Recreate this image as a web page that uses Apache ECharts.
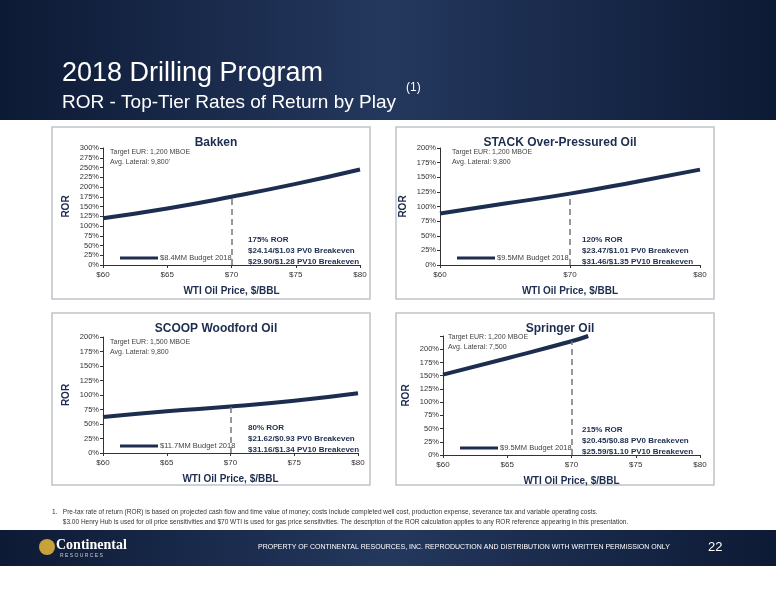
<!DOCTYPE html>
<html><head><meta charset="utf-8">
<script src="https://cdn.jsdelivr.net/npm/echarts@6/dist/echarts.min.js"></script>
<style>html,body{margin:0;padding:0;background:#fff}#c{width:776px;height:600px}</style>
</head><body><div id="c"></div>
<script>
// chart data
var bakkenX = [60, 65, 70, 75, 80];
var bakkenY = [120, 145, 175, 208, 245];
var stackX = [60, 65, 70, 75, 80];
var stackY = [88, 105, 122, 142, 163];
var scoopX = [60, 65, 70, 75, 80];
var scoopY = [62, 72, 80, 90, 103];
var springerX = [60, 65, 70, 71.3];
var springerY = [152, 183, 215, 225];

var titles = ['Bakken', 'STACK Over-Pressured Oil', 'SCOOP Woodford Oil', 'Springer Oil'];
var budgets = ['$8.4MM Budget 2018', '$9.5MM Budget 2018', '$11.7MM Budget 2018', '$9.5MM Budget 2018 '];
var targets = [
    'Target EUR: 1,200 MBOE\nAvg. Lateral: 9,800\'',
    'Target EUR: 1,200 MBOE\nAvg. Lateral: 9,800',
    'Target EUR: 1,500 MBOE\nAvg. Lateral: 9,800',
    'Target EUR: 1,200 MBOE\nAvg. Lateral: 7,500'
];
var notes = [
    ['175% ROR', '$24.14/$1.03 PV0 Breakeven', '$29.90/$1.28 PV10 Breakeven'],
    ['120% ROR', '$23.47/$1.01 PV0 Breakeven', '$31.46/$1.35 PV10 Breakeven'],
    ['80% ROR', '$21.62/$0.93 PV0 Breakeven', '$31.16/$1.34 PV10 Breakeven'],
    ['215% ROR', '$20.45/$0.88 PV0 Breakeven', '$25.59/$1.10 PV10 Breakeven']
];
var markTop = [175, 120, 80, 215];
var yMax = [300, 200, 200, 225];
var xInterval = [5, 10, 5, 5];

var navy = '#1c2d4f';
var grids = [
    {left: 103, top: 148, width: 257, height: 117},
    {left: 440, top: 148, width: 260, height: 117},
    {left: 103, top: 337, width: 255, height: 116},
    {left: 443, top: 336, width: 257, height: 119}
];
var panels = [[52, 127], [396, 127], [52, 313], [396, 313]];
var targetPos = [[110, 147], [452, 147], [110, 337], [448, 332]];
var seriesData = [[bakkenX, bakkenY], [stackX, stackY], [scoopX, scoopY], [springerX, springerY]];

var bg = function () {
    return new echarts.graphic.LinearGradient(0, 0, 1, 0, [
        {offset: 0, color: '#0d1a35'}, {offset: 0.5, color: '#24385e'}, {offset: 1, color: '#0d1a35'}]);
};

var option = {
    animation: false,
    textStyle: {fontFamily: 'Arial, Liberation Sans'},
    grid: grids,
    xAxis: [], yAxis: [], series: [], legend: [], title: [],
    graphic: []
};

// header and footer
option.graphic.push(
    {type: 'rect', shape: {x: 0, y: 0, width: 776, height: 120}, z: -10, style: {fill: bg()}},
    {type: 'text', left: 62, top: 60, style: {text: '2018 Drilling Program', fill: '#fff', font: '27px Arial'}},
    {type: 'text', left: 62, top: 93, style: {text: 'ROR - Top-Tier Rates of Return by Play', fill: '#fff', font: '19px Arial'}},
    {type: 'text', left: 406, top: 82, style: {text: '(1)', fill: '#fff', font: '12px Arial'}},
    {type: 'text', left: 52, top: 507, style: {text: '1.   Pre-tax rate of return (ROR) is based on projected cash flow and time value of money; costs include completed well cost, production expense, severance tax and variable operating costs.\n      $3.00 Henry Hub is used for oil price sensitivities and $70 WTI is used for gas price sensitivities. The description of the ROR calculation applies to any ROR reference appearing in this presentation.', fill: '#333', font: '6.5px Arial', lineHeight: 10}},
    {type: 'rect', shape: {x: 0, y: 530, width: 776, height: 36}, z: -10, style: {fill: bg()}},
    {type: 'text', left: 56, top: 538, style: {text: 'Continental', fill: '#fff', font: 'bold 14px "Liberation Serif"'}},
    {type: 'text', left: 60, top: 553, style: {text: 'R E S O U R C E S', fill: '#ccc', font: '5px Arial'}},
    {type: 'circle', shape: {cx: 47, cy: 547, r: 8}, style: {fill: '#c9a13a'}},
    {type: 'text', left: 258, top: 544, style: {text: 'PROPERTY OF CONTINENTAL RESOURCES, INC. REPRODUCTION AND DISTRIBUTION WITH WRITTEN PERMISSION ONLY', fill: '#fff', font: '7px Arial'}},
    {type: 'text', left: 708, top: 541, style: {text: '22', fill: '#fff', font: '13px Arial'}}
);

for (var i = 0; i < 4; i++) {
    var g = grids[i], p = panels[i];
    option.graphic.push(
        {type: 'rect', shape: {x: p[0], y: p[1], width: 318, height: 172}, z: -5, style: {fill: '#fff', stroke: '#bfc3c9', lineWidth: 1.5}},
        {type: 'text', left: targetPos[i][0], top: targetPos[i][1], style: {text: targets[i], fill: '#444', font: '7px Arial', lineHeight: 10}},
        {type: 'text', left: (i % 2 ? 582 : 248), top: g.top + g.height - 31, style: {text: notes[i].join('\n'), fill: navy, font: 'bold 8px Arial', lineHeight: 11}}
    );
    option.title.push({
        text: titles[i], left: p[0] + 159, top: p[1] + 5, textAlign: 'center',
        textStyle: {fontSize: 12, fontWeight: 'bold', color: navy}
    });
    option.xAxis.push({
        type: 'value', gridIndex: i, min: 60, max: 80, interval: xInterval[i],
        name: 'WTI Oil Price, $/BBL', nameLocation: 'middle', nameGap: 21,
        nameTextStyle: {fontSize: 10, fontWeight: 'bold', color: navy},
        axisLine: {lineStyle: {color: '#333'}}, axisTick: {show: true, length: 3},
        splitLine: {show: false},
        axisLabel: {fontSize: 8, color: '#333', margin: 6, formatter: function (v) { return '$' + v; }}
    });
    option.yAxis.push({
        type: 'value', gridIndex: i, min: 0, max: yMax[i], interval: 25,
        name: 'ROR', nameLocation: 'middle', nameGap: 32,
        nameTextStyle: {fontSize: 10, fontWeight: 'bold', color: navy},
        axisLine: {show: true, lineStyle: {color: '#333'}}, axisTick: {show: true, length: 3},
        splitLine: {show: false},
        axisLabel: {fontSize: 7.5, color: '#333', margin: 4,
            formatter: (function (mx) { return function (v) { return (mx === 225 && v === 225) ? '' : v + '%'; }; })(yMax[i])}
    });
    var d = seriesData[i];
    option.series.push({
        type: 'line', name: budgets[i], xAxisIndex: i, yAxisIndex: i, smooth: true, symbol: 'none',
        lineStyle: {color: navy, width: 4}, itemStyle: {color: navy},
        data: d[0].map(function (x, k) { return [x, d[1][k]]; }),
        markLine: {symbol: 'none', silent: true, label: {show: false},
            lineStyle: {color: '#777', type: [6, 4], width: 1.5},
            data: [[{coord: [70, 0]}, {coord: [70, markTop[i]]}]]}
    });
    option.legend.push({
        data: [budgets[i]], left: g.left + 12, top: g.top + g.height - 16,
        icon: 'rect', itemWidth: 38, itemHeight: 3, itemGap: 2,
        textStyle: {fontSize: 7.5, color: '#444', padding: [0, 0, 0, -3]}
    });
}

var chart = echarts.init(document.getElementById('c'));
chart.setOption(option);
</script>
</body></html>
